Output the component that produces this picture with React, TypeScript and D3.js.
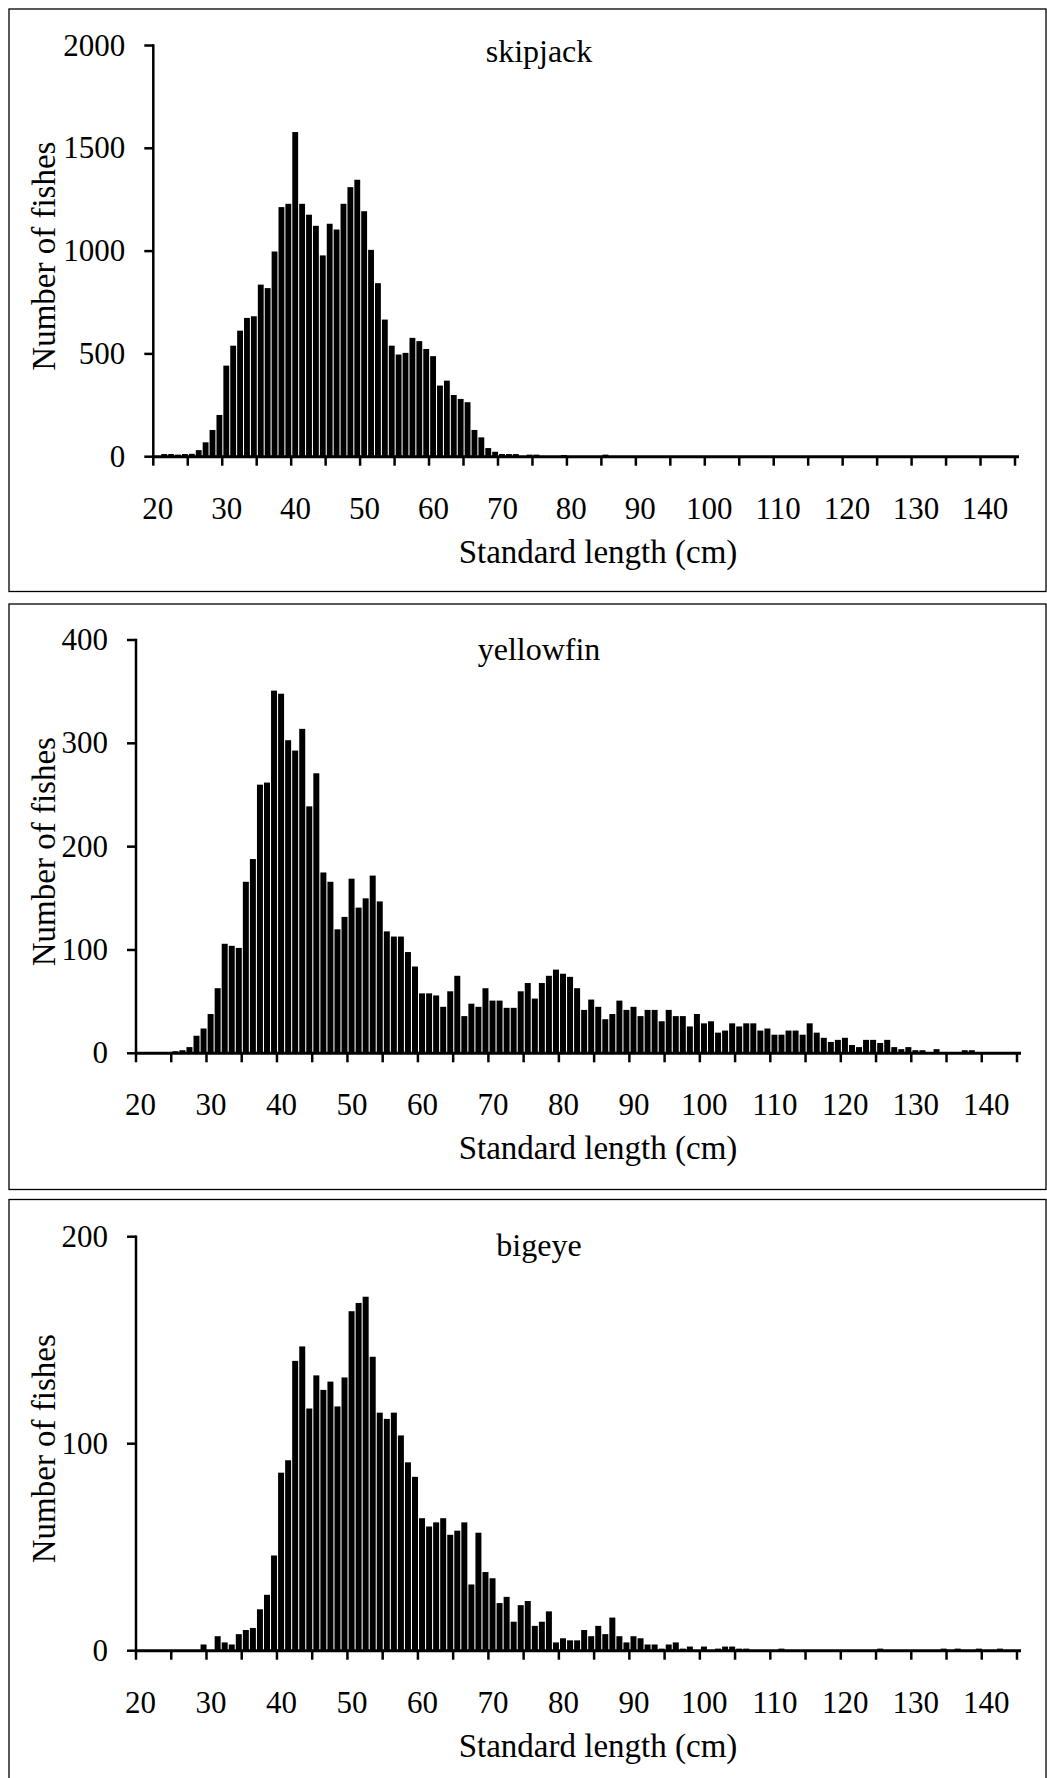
import React, { useRef, useEffect } from "react";
import * as d3 from "d3";

// length classes (cm), one bar per class
const lengthClasses = d3.range(20, 145);
const xLabels = [20, 30, 40, 50, 60, 70, 80, 90, 100, 110, 120, 130, 140];

// counts per 1 cm class, from 20 cm to 144 cm
const skipjack = [
  0, 13, 13, 10, 13, 14, 32, 70, 130, 203,
  443, 540, 613, 675, 683, 837, 820, 998, 1214, 1230,
  1579, 1230, 1177, 1123, 979, 1133, 1105, 1230, 1311, 1347,
  1194, 1006, 844, 667, 540, 497, 505, 578, 562, 524,
  489, 346, 370, 300, 281, 265, 130, 94, 42, 24,
  13, 13, 13, 3, 10, 10, 2, 2, 2, 8,
  2, 1, 1, 1, 2, 10, 1, 1, 1, 1,
  1, 1, 1, 1, 1, 0, 0, 0, 0, 0,
  0, 0, 0, 0, 0, 0, 0, 0, 0, 0,
  0, 0, 0, 0, 0, 0, 0, 0, 0, 0,
  0, 0, 0, 0, 0, 0, 0, 0, 0, 0,
  0, 0, 0, 0, 0, 0, 0, 0, 0, 0,
  0, 0, 0, 0, 0,
];

const yellowfin = [
  0, 0, 0, 1, 1, 2, 3, 6, 17, 24,
  38, 63, 106, 104, 102, 166, 188, 260, 262, 351,
  348, 303, 293, 314, 239, 271, 175, 166, 120, 132,
  169, 141, 150, 172, 147, 118, 113, 113, 98, 84,
  58, 58, 56, 45, 60, 75, 36, 48, 45, 63,
  51, 51, 44, 44, 60, 68, 53, 68, 75, 81,
  77, 74, 63, 42, 52, 45, 33, 38, 51, 42,
  45, 36, 42, 42, 31, 42, 36, 36, 26, 38,
  29, 31, 20, 22, 29, 26, 29, 29, 22, 24,
  18, 18, 22, 22, 18, 29, 20, 15, 11, 13,
  15, 8, 6, 13, 13, 10, 13, 6, 4, 6,
  3, 3, 1, 4, 1, 1, 1, 3, 3, 1,
  1, 1, 1, 1, 1,
];

const bigeye = [
  0, 0, 0, 0, 0, 0, 0, 0, 0, 3,
  0, 7, 4, 3, 8, 10, 11, 20, 27, 46,
  86, 92, 140, 147, 117, 133, 126, 130, 118, 132,
  164, 168, 171, 142, 115, 112, 115, 104, 91, 84,
  64, 60, 62, 64, 56, 58, 62, 32, 57, 38,
  35, 23, 26, 14, 22, 24, 12, 14, 19, 4,
  6, 5, 5, 10, 7, 12, 8, 16, 7, 4,
  7, 6, 3, 3, 1, 3, 4, 1, 2, 0,
  2, 0, 1, 2, 2, 1, 1, 0, 0, 0,
  0, 1, 0, 0, 0, 0, 0, 0, 0, 0,
  0, 0, 0, 0, 0, 1, 0, 0, 0, 0,
  0, 0, 0, 0, 1, 0, 1, 0, 0, 1,
  0, 0, 1, 0, 0,
];

const skipjackTicks = [0, 500, 1000, 1500, 2000];
const yellowfinTicks = [0, 100, 200, 300, 400];
const bigeyeTicks = [0, 100, 200];

const FONT = "'Liberation Serif', 'Times New Roman', serif";

function App() {
  const svgRef = useRef(null);

  useEffect(() => {
    const width = 1047;
    const height = 1778;

    const svg = d3.select(svgRef.current)
      .attr("width", width)
      .attr("height", height);

    svg.selectAll("*").remove();

    const panels = [
      { name: "skipjack", values: skipjack, ticks: skipjackTicks,
        box: [9, 9, 1046, 591.5], x: [153.3, 1015], y: [456.7, 45.5], titleY: 62 },
      { name: "yellowfin", values: yellowfin, ticks: yellowfinTicks,
        box: [9, 604, 1046, 1189.5], x: [136, 1017], y: [1053.3, 640], titleY: 660 },
      { name: "bigeye", values: bigeye, ticks: bigeyeTicks,
        box: [9, 1199.5, 1046, 1790], x: [136, 1017], y: [1650.7, 1236.7], titleY: 1256 },
    ];

    panels.forEach(p => {
      const g = svg.append("g");

      // frame
      g.append("rect")
        .attr("x", p.box[0])
        .attr("y", p.box[1])
        .attr("width", p.box[2] - p.box[0])
        .attr("height", p.box[3] - p.box[1])
        .attr("fill", "none")
        .attr("stroke", "#000")
        .attr("stroke-width", 1.3);

      // SCALES
      const xBand = d3.scaleBand()
        .domain(lengthClasses)
        .range(p.x)
        .paddingInner(0.15)
        .paddingOuter(0.075);

      const xEdge = d3.scaleLinear()
        .domain([20, 145])
        .range(p.x);

      const yMax = p.ticks[p.ticks.length - 1];
      const y = d3.scaleLinear()
        .domain([0, yMax])
        .range(p.y);

      // BARS
      g.append("g")
        .selectAll("rect")
        .data(p.values)
        .enter()
        .append("rect")
        .attr("x", (d, i) => xBand(lengthClasses[i]) + 0.6)
        .attr("width", xBand.bandwidth())
        .attr("y", d => y(d))
        .attr("height", d => y(0) - y(d))
        .attr("fill", "#000");

      // Y AXIS
      g.append("line")
        .attr("x1", p.x[0]).attr("x2", p.x[0])
        .attr("y1", y(yMax) - 1.2).attr("y2", y(0))
        .attr("stroke", "#000").attr("stroke-width", 2.5);

      p.ticks.forEach(t => {
        g.append("line")
          .attr("x1", p.x[0] - 9).attr("x2", p.x[0])
          .attr("y1", y(t)).attr("y2", y(t))
          .attr("stroke", "#000").attr("stroke-width", 2.5);
        g.append("text")
          .attr("x", p.x[0] - 28)
          .attr("y", y(t) + 10)
          .attr("text-anchor", "end")
          .attr("font-family", FONT)
          .attr("font-size", 31)
          .text(t);
      });

      // X AXIS
      g.append("line")
        .attr("x1", p.x[0] - 1.2).attr("x2", p.x[1] + 4)
        .attr("y1", y(0)).attr("y2", y(0))
        .attr("stroke", "#000").attr("stroke-width", 3);

      d3.range(20, 146, 5).forEach(v => {
        g.append("line")
          .attr("x1", xEdge(v)).attr("x2", xEdge(v))
          .attr("y1", y(0)).attr("y2", y(0) + 9)
          .attr("stroke", "#000").attr("stroke-width", 2.5);
      });

      xLabels.forEach(v => {
        g.append("text")
          .attr("x", xEdge(v + 0.5) + 1)
          .attr("y", y(0) + 62)
          .attr("text-anchor", "middle")
          .attr("font-family", FONT)
          .attr("font-size", 31)
          .text(v);
      });

      // AXIS LABELS
      g.append("text")
        .attr("x", 598)
        .attr("y", y(0) + 106)
        .attr("text-anchor", "middle")
        .attr("font-family", FONT)
        .attr("font-size", 33)
        .text("Standard length (cm)");

      g.append("text")
        .attr("transform", `translate(55, ${(y(0) + y(yMax)) / 2 + 5}) rotate(-90)`)
        .attr("text-anchor", "middle")
        .attr("font-family", FONT)
        .attr("font-size", 33)
        .text("Number of fishes");

      // TITLE
      g.append("text")
        .attr("x", 539)
        .attr("y", p.titleY)
        .attr("text-anchor", "middle")
        .attr("font-family", FONT)
        .attr("font-size", 32)
        .text(p.name);
    });
  }, []);

  return <svg ref={svgRef} style={{ position: "absolute", left: 0, top: 0 }}></svg>;
}

export default App;
